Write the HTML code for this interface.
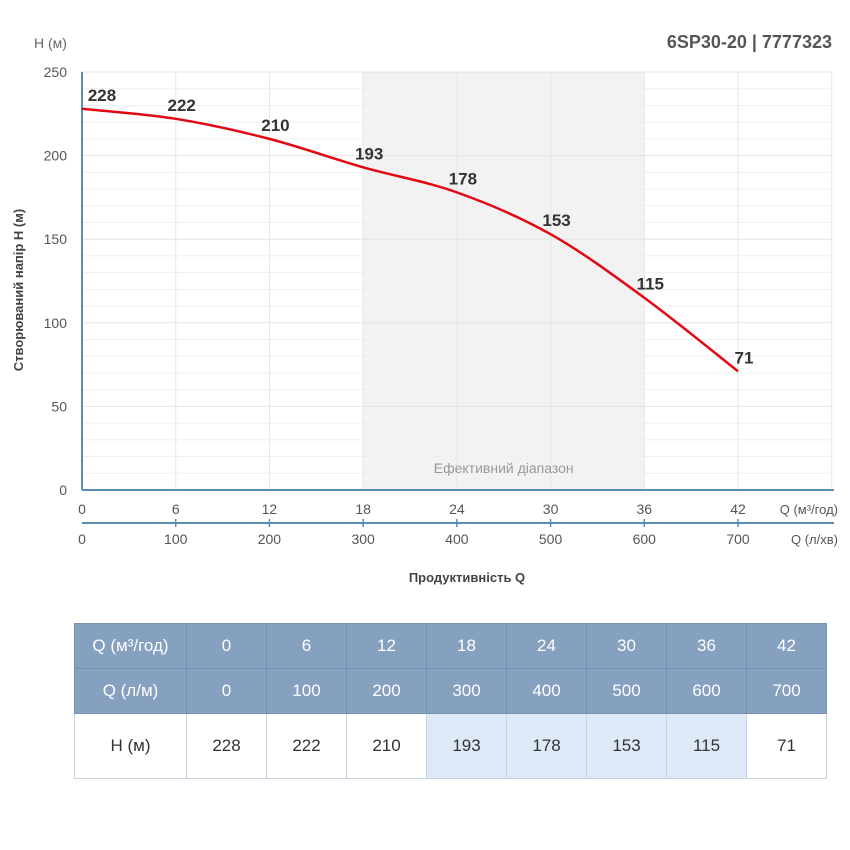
<!DOCTYPE html>
<html><head><meta charset="utf-8">
<style>
body{margin:0;background:#fff;font-family:"Liberation Sans",sans-serif;}
#wrap{position:relative;width:850px;height:850px;overflow:hidden;}
table{position:absolute;left:74px;top:623px;border-collapse:collapse;font-size:17px;}
td{text-align:center;padding:0;border:1px solid #c5d2e0;color:#333;}
tr.h td{background:#86a0bf;color:#fff;height:44px;border-color:#7590b1;}
tr.d td{height:64px;}
td.hl{background:#dde9f7;}
</style></head><body>
<div id="wrap">
<svg id="chart" width="850" height="610" style="position:absolute;left:0;top:0"></svg>
<table>
<tr class="h"><td style="width:111px">Q (м³/год)</td><td style="width:79px">0</td><td style="width:79px">6</td><td style="width:79px">12</td><td style="width:79px">18</td><td style="width:79px">24</td><td style="width:79px">30</td><td style="width:79px">36</td><td style="width:79px">42</td></tr>
<tr class="h"><td>Q (л/м)</td><td>0</td><td>100</td><td>200</td><td>300</td><td>400</td><td>500</td><td>600</td><td>700</td></tr>
<tr class="d"><td>H (м)</td><td>228</td><td>222</td><td>210</td><td class="hl">193</td><td class="hl">178</td><td class="hl">153</td><td class="hl">115</td><td>71</td></tr>
</table>
</div>
<script>
const qValues=[0,6,12,18,24,30,36,42];
const hValues=[228,222,210,193,178,153,115,71];
const qTicks=[0,6,12,18,24,30,36,42];
const lTicks=["0","100","200","300","400","500","600","700"];
const yTicks=[0,50,100,150,200,250];
const effRange=[18,36];
const NS="http://www.w3.org/2000/svg";
const svg=document.getElementById('chart');
const X0=82,XK=(738-82)/42,Y0=490,YK=(490-72)/250;
const xs=q=>X0+q*XK, ys=h=>Y0-h*YK;
function el(t,a,txt){const e=document.createElementNS(NS,t);for(const k in a)e.setAttribute(k,a[k]);if(txt!=null)e.textContent=txt;svg.appendChild(e);return e;}
let r=el('rect',{x:xs(effRange[0]),y:72,width:xs(effRange[1])-xs(effRange[0]),height:418,fill:'#f2f2f2'});


for(let h=10;h<=250;h+=10){const l=el('line',{x1:X0,x2:832,y1:ys(h),y2:ys(h),stroke:h%50?'#efefef':'#e3e3e3','stroke-width':1});

}
for(let q=6;q<=48;q+=6){const l=el('line',{x1:xs(q),x2:xs(q),y1:72,y2:490,stroke:'#e6e6e6'});

}
let t=el('text',{x:(xs(effRange[0])+xs(effRange[1]))/2,y:473,'text-anchor':'middle','font-size':14,fill:'#999'},'Ефективний діапазон');


el('line',{x1:X0,x2:X0,y1:72,y2:490,stroke:'#5b8db3','stroke-width':2});
el('line',{x1:X0,x2:834,y1:490,y2:490,stroke:'#5b8db3','stroke-width':2});
el('line',{x1:X0,x2:834,y1:523,y2:523,stroke:'#5b8db3','stroke-width':2});
yTicks.forEach(v=>{const e=el('text',{x:67,y:ys(v)+5,'text-anchor':'end','font-size':14,fill:'#555'},String(v));

});
qTicks.forEach((v,i)=>{const x=xs(v);
const a=el('text',{x:x,y:514,'text-anchor':'middle','font-size':14,fill:'#555'},String(v));


const b=el('text',{x:x,y:544,'text-anchor':'middle','font-size':14,fill:'#555'},lTicks[i]);


if(i>0)el('line',{x1:x,x2:x,y1:519,y2:527,stroke:'#5b8db3','stroke-width':1.5});});
el('text',{x:838,y:514,'text-anchor':'end','font-size':13,fill:'#555'},'Q (м³/год)');
el('text',{x:838,y:544,'text-anchor':'end','font-size':13,fill:'#555'},'Q (л/хв)');
let at=el('text',{x:467,y:582,'text-anchor':'middle','font-size':13,'font-weight':'bold',fill:'#444'},'Продуктивність Q');


let yt=el('text',{x:0,y:0,transform:'translate(23,290) rotate(-90)','text-anchor':'middle','font-size':13,'font-weight':'bold',fill:'#444'},'Створюваний напір H (м)');


el('text',{x:34,y:48,'font-size':14,fill:'#666'},'H (м)');
let ti=el('text',{x:832,y:48,'text-anchor':'end','font-size':18,'font-weight':'bold',fill:'#555'},'6SP30-20 | 7777323');


const P=qValues.map((q,i)=>[xs(q),ys(hValues[i])]);
let d='M'+P[0][0]+','+P[0][1];
for(let i=0;i<P.length-1;i++){const p0=P[i-1]||P[i],p1=P[i],p2=P[i+1],p3=P[i+2]||p2;
d+=` C${p1[0]+(p2[0]-p0[0])/6},${p1[1]+(p2[1]-p0[1])/6} ${p2[0]-(p3[0]-p1[0])/6},${p2[1]-(p3[1]-p1[1])/6} ${p2[0]},${p2[1]}`;}
let c=el('path',{d:d,fill:'none',stroke:'#e30613','stroke-width':2.5});


P.forEach((p,i)=>{const lb=el('text',{x:p[0]+(i===0?20:6),y:p[1]-8,'text-anchor':'middle','font-size':17,'font-weight':'bold',fill:'#333'},String(hValues[i]));

});
</script>
</body></html>
